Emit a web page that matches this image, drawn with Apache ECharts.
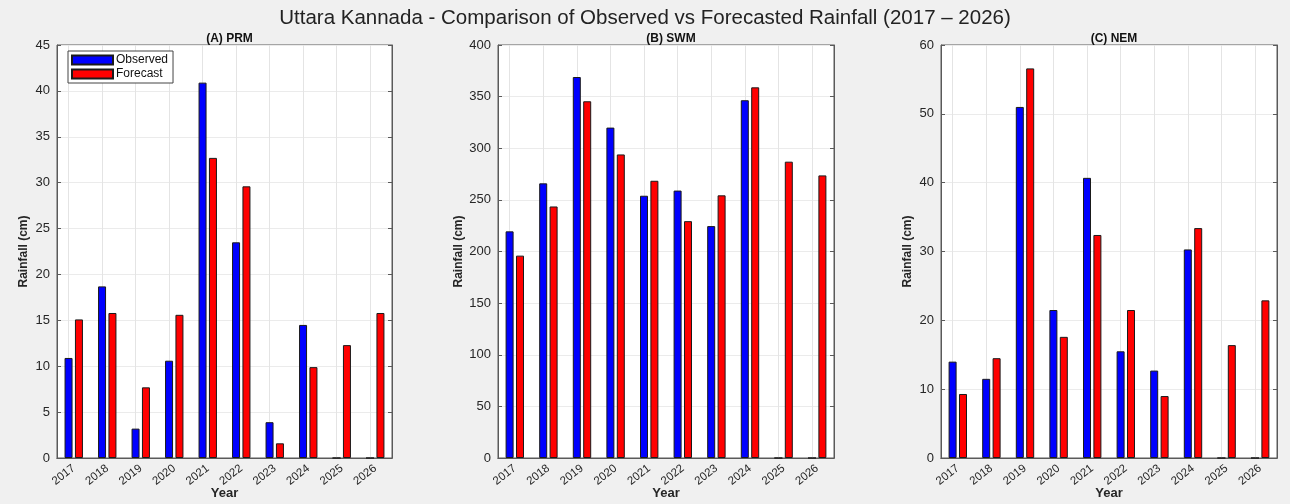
<!DOCTYPE html>
<html>
<head>
<meta charset="utf-8">
<script src="https://cdn.jsdelivr.net/npm/echarts@6/dist/echarts.min.js"></script>
<style>
  html, body { margin: 0; padding: 0; background: #f0f0f0; }
  #chart { width: 1290px; height: 504px; }
</style>
</head>
<body>
<div id="chart"></div>
<script>
// years on the x axis
const years = ['2017', '2018', '2019', '2020', '2021', '2022', '2023', '2024', '2025', '2026'];

// (A) PRM
const prmObserved = [10.9, 18.7, 3.2, 10.6, 40.9, 23.5, 3.9, 14.5, 0, 0];
const prmForecast = [15.1, 15.8, 7.7, 15.6, 32.7, 29.6, 1.6, 9.9, 12.3, 15.8];
// (B) SWM
const swmObserved = [219.5, 266, 369, 320, 254, 259, 224.6, 346.5, 0, 0];
const swmForecast = [196, 243.6, 345.5, 294, 268.5, 229.4, 254.4, 359, 287, 273.7];
// (C) NEM
const nemObserved = [14.0, 11.5, 51.0, 21.5, 40.7, 15.5, 12.7, 30.3, 0, 0];
const nemForecast = [9.3, 14.5, 56.6, 17.6, 32.4, 21.5, 9.0, 33.4, 16.4, 22.9];

const panels = [
  { title: '(A) PRM', obs: prmObserved, fc: prmForecast, max: 45, interval: 5, left: 57, right: 898, nameGap: 27 },
  { title: '(B) SWM', obs: swmObserved, fc: swmForecast, max: 400, interval: 50, left: 498, right: 456, nameGap: 33 },
  { title: '(C) NEM', obs: nemObserved, fc: nemForecast, max: 60, interval: 10, left: 941, right: 13, nameGap: 27 }
];

const textColor = '#262626';
const lineColor = '#5a5a5a';
const font = 'Liberation Sans';

const grid = [], xAxis = [], yAxis = [], series = [];
const titles = [{
  text: 'Uttara Kannada - Comparison of Observed vs Forecasted Rainfall (2017 \u2013 2026)',
  left: 'center',
  top: 3,
  textStyle: { fontFamily: font, fontSize: 20.5, fontWeight: 'normal', color: '#222' }
}];

panels.forEach((p, i) => {
  grid.push({
    left: p.left, right: p.right, top: 45, bottom: 46,
    outerBoundsMode: 'none', containLabel: false,
    show: true, backgroundColor: '#fff', borderColor: lineColor, borderWidth: 1
  });
  titles.push({
    text: p.title,
    left: p.left + (1290 - p.left - p.right) / 2,
    textAlign: 'center',
    top: 28,
    textStyle: { fontFamily: font, fontSize: 12, fontWeight: 'bold', color: '#111' }
  });
  // bottom category axis
  xAxis.push({
    type: 'category', gridIndex: i, data: years,
    name: 'Year', nameLocation: 'middle', nameGap: 29, nameMoveOverlap: false,
    nameTextStyle: { fontFamily: font, fontSize: 13, fontWeight: 'bold', color: textColor },
    axisLine: { lineStyle: { color: lineColor } },
    axisTick: { inside: true, alignWithLabel: true, length: 4, lineStyle: { color: lineColor } },
    axisLabel: { rotate: 38, fontFamily: font, fontSize: 11.5, color: textColor, margin: 9 },
    splitLine: { show: false }
  });
  // top axis, ticks only
  xAxis.push({
    type: 'category', gridIndex: i, data: years, position: 'top',
    axisLine: { lineStyle: { color: lineColor } },
    axisTick: { inside: true, alignWithLabel: true, length: 4, lineStyle: { color: lineColor } },
    axisLabel: { show: false },
    splitLine: { show: false }
  });
  yAxis.push({
    type: 'value', gridIndex: i, min: 0, max: p.max, interval: p.interval,
    name: 'Rainfall (cm)', nameLocation: 'middle', nameGap: p.nameGap, nameMoveOverlap: false,
    nameTextStyle: { fontFamily: font, fontSize: 12, fontWeight: 'bold', color: textColor },
    axisLine: { show: true, lineStyle: { color: lineColor } },
    axisTick: { show: true, inside: true, length: 4, lineStyle: { color: lineColor } },
    axisLabel: { fontFamily: font, fontSize: 13, color: textColor, margin: 7 },
    splitLine: { show: true, lineStyle: { color: '#ebebeb' } }
  });
  // right axis, ticks only
  yAxis.push({
    type: 'value', gridIndex: i, min: 0, max: p.max, interval: p.interval, position: 'right',
    axisLine: { show: true, lineStyle: { color: lineColor } },
    axisTick: { show: true, inside: true, length: 4, lineStyle: { color: lineColor } },
    axisLabel: { show: false },
    splitLine: { show: false }
  });
  series.push({
    name: 'Observed', type: 'bar', xAxisIndex: i * 2, yAxisIndex: i * 2, data: p.obs,
    barWidth: 8, barGap: '30%', z: 3,
    itemStyle: { color: '#0000ff', borderColor: '#1a1a1a', borderWidth: 1 },
    // vertical grid lines at the category centres
    markLine: {
      silent: true, symbol: 'none', z: 1, animation: false,
      label: { show: false },
      lineStyle: { color: '#e4e4e4', type: 'solid', width: 1 },
      data: years.map(y => ({ xAxis: y }))
    }
  });
  series.push({
    name: 'Forecast', type: 'bar', xAxisIndex: i * 2, yAxisIndex: i * 2, data: p.fc,
    barWidth: 8, barGap: '30%', z: 3,
    itemStyle: { color: '#ff0000', borderColor: '#1a1a1a', borderWidth: 1 }
  });
});

const chart = echarts.init(document.getElementById('chart'));
chart.setOption({
  backgroundColor: '#f0f0f0',
  animation: false,
  title: titles,
  legend: {
    data: ['Observed', 'Forecast'],
    orient: 'vertical',
    left: 68, top: 51,
    icon: 'rect',
    itemWidth: 41, itemHeight: 9, itemGap: 2,
    padding: [3, 5, 3, 3],
    backgroundColor: '#fff', borderColor: '#444', borderWidth: 1, borderRadius: 0,
    textStyle: { fontFamily: font, fontSize: 12, lineHeight: 11, color: '#111', padding: [0, 0, 0, -2] }
  },
  grid: grid,
  xAxis: xAxis,
  yAxis: yAxis,
  series: series
});
</script>
</body>
</html>
